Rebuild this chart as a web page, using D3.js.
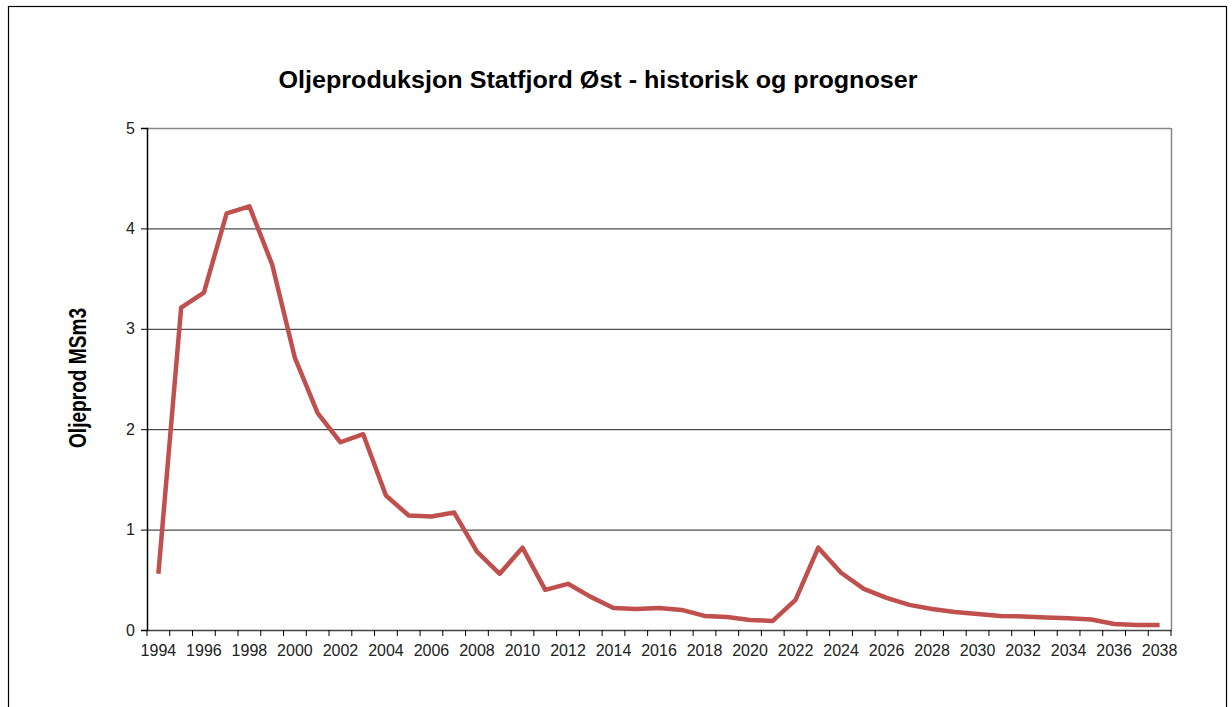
<!DOCTYPE html>
<html><head><meta charset="utf-8">
<script src="https://cdn.jsdelivr.net/npm/d3@7"></script>
<style>body{margin:0;background:#fff}svg{display:block}</style>
</head><body>
<svg id="c" width="1232" height="707"></svg>
<script>
const years = d3.range(1994, 2039);
const production = [0.56,3.21,3.36,4.15,4.22,3.64,2.71,2.16,1.87,1.95,1.34,1.14,1.13,1.17,0.78,0.56,0.82,0.40,0.46,0.33,0.22,0.21,0.22,0.20,0.14,0.13,0.10,0.09,0.30,0.82,0.57,0.41,0.32,0.25,0.21,0.18,0.16,0.14,0.135,0.125,0.117,0.105,0.06,0.05,0.05];
const yTicks = [0,1,2,3,4,5];
const title = "Oljeproduksjon Statfjord Øst - historisk og prognoser";
const yTitle = "Oljeprod MSm3";

const svg = d3.select("#c");
const font = "'Liberation Sans', Arial, sans-serif";
const L = 147, R = 1171, T = 128, B = 630;

svg.append("rect").attr("x",8.5).attr("y",6.5).attr("width",1218).attr("height",760)
  .attr("fill","none").attr("stroke","#000").attr("stroke-width",1.2);

const x = d3.scaleBand().domain(years).range([L,R]).padding(0);
const y = d3.scaleLinear().domain([0,5]).range([B,T]);

// grid
svg.append("g").selectAll("line").data(yTicks.filter(d=>d>0&&d<5)).join("line")
  .attr("x1",L).attr("x2",R).attr("y1",d=>y(d)+0.5).attr("y2",d=>y(d)+0.5)
  .attr("stroke","#222").attr("stroke-width",1);
// plot border top/right gray
svg.append("line").attr("x1",L).attr("x2",R).attr("y1",T+0.5).attr("y2",T+0.5).attr("stroke","#888").attr("stroke-width",1.5);
svg.append("line").attr("x1",R+0.5).attr("x2",R+0.5).attr("y1",T).attr("y2",B).attr("stroke","#888").attr("stroke-width",1.5);

// y axis
const ya = svg.append("g").attr("transform",`translate(${L},0)`)
  .call(d3.axisLeft(y).tickValues(yTicks).tickSize(6).tickPadding(6).tickFormat(d3.format("d")));
ya.select(".domain").attr("stroke","#000").attr("stroke-width",1.5);
ya.selectAll(".tick line").attr("stroke","#000");
ya.selectAll("text").attr("font-family",font).attr("font-size",16).attr("fill","#222");

// x axis
const xa = svg.append("g").attr("transform",`translate(0,${B})`)
  .call(d3.axisBottom(x).tickValues(years.filter((d,i)=>i%2===0)).tickSize(0).tickPadding(15));
xa.select(".domain").attr("stroke","#444").attr("stroke-width",1.5);
xa.selectAll("text").attr("font-family",font).attr("font-size",16).attr("fill","#222");
svg.append("g").attr("transform",`translate(0,${B})`).selectAll("line")
  .data(years.concat([null])).join("line")
  .attr("x1",(d,i)=>L + i*x.bandwidth()).attr("x2",(d,i)=>L + i*x.bandwidth())
  .attr("y1",0).attr("y2",6).attr("stroke","#000").attr("stroke-width",1);

// line
svg.append("path").datum(production)
  .attr("d", d3.line().x((d,i)=>x(years[i])+x.bandwidth()/2).y(d=>y(d)))
  .attr("fill","none").attr("stroke","#C0504D").attr("stroke-width",4.5).attr("stroke-linejoin","round");

svg.append("text").attr("x",598).attr("y",88).attr("text-anchor","middle")
  .attr("font-family",font).attr("font-weight","bold").attr("font-size",23).attr("fill","#000")
  .attr("textLength",639).attr("lengthAdjust","spacingAndGlyphs").text(title);
svg.append("text").attr("transform",`translate(86,${(T+B)/2-1}) rotate(-90)`).attr("text-anchor","middle")
  .attr("font-family",font).attr("font-weight","bold").attr("font-size",23).attr("fill","#000")
  .attr("textLength",140).attr("lengthAdjust","spacingAndGlyphs").text(yTitle);
</script>
</body></html>
